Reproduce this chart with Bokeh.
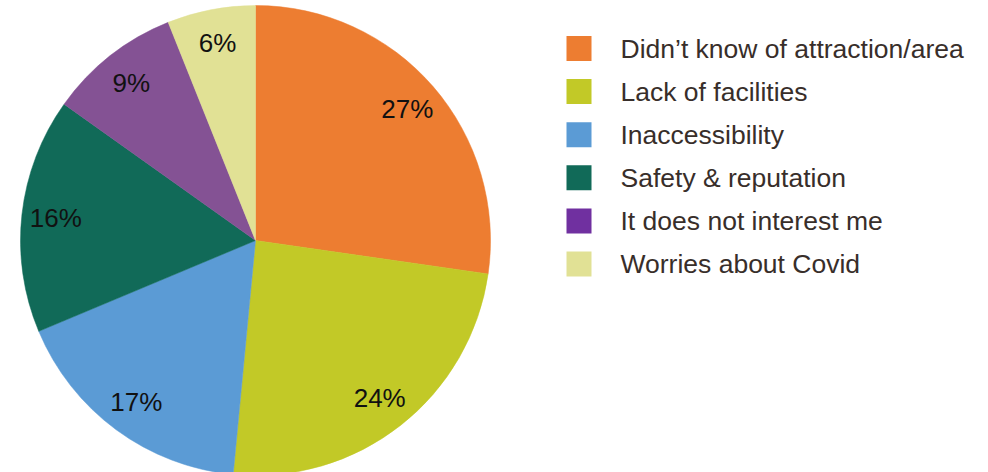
import math
from bokeh.plotting import figure
from bokeh.models import ColumnDataSource, Range1d
from bokeh.core.properties import value
from bokeh.embed import file_html
from bokeh.resources import INLINE

categories = ["Didn\u2019t know of attraction/area", "Lack of facilities", "Inaccessibility",
              "Safety & reputation", "It does not interest me", "Worries about Covid"]
values = [27, 24, 17, 16, 9, 6]
pie_colors = ["#ED7D31", "#C2C927", "#5B9BD5", "#116A58", "#845294", "#E1E195"]
legend_colors = ["#ED7D31", "#C2C927", "#5B9BD5", "#116A58", "#7030A0", "#E1E195"]

W, H = 988, 472
cx, cy, R = 255, H - 240, 235

total = sum(values)
starts, ends, lx, ly, labels = [], [], [], [], []
cum = 0.0
for v in values:
    a0 = math.pi / 2 - 2 * math.pi * cum / total
    cum += v
    a1 = math.pi / 2 - 2 * math.pi * cum / total
    starts.append(a1)
    ends.append(a0)
    mid = (a0 + a1) / 2
    lx.append(cx + 0.855 * R * math.cos(mid))
    ly.append(cy + 0.855 * R * math.sin(mid))
    labels.append(f"{v}%")

p = figure(width=W, height=H, x_range=Range1d(0, W), y_range=Range1d(0, H),
           output_backend="svg", toolbar_location=None, min_border=0,
           min_border_left=0, min_border_right=0, min_border_top=0, min_border_bottom=0)
p.axis.visible = False
p.grid.visible = False
p.outline_line_color = None
p.background_fill_color = "white"
p.border_fill_color = "white"

src = ColumnDataSource(dict(start=starts, end=ends, color=pie_colors))
p.wedge(x=cx, y=cy, radius=R, start_angle="start", end_angle="end",
        fill_color="color", line_color="color", line_width=0.5, source=src)

lsrc = ColumnDataSource(dict(x=lx, y=ly, t=labels))
p.text(x="x", y="y", text="t", source=lsrc, text_align="center", text_baseline="middle",
       text_font=value("Liberation Sans"), text_font_size="26px", text_color="#111111")

# legend
row_y = [H - (48 + 43.1 * i) for i in range(len(categories))]
p.rect(x=[578.5] * len(categories), y=row_y, width=25, height=25,
       fill_color=legend_colors, line_color=None)
p.text(x=[620] * len(categories), y=row_y, text=categories, text_align="left",
       text_baseline="middle", text_font=value("Liberation Sans"),
       text_font_size="26.5px", text_color="#382E2A")

open("out.html", "w").write(file_html(p, INLINE))
